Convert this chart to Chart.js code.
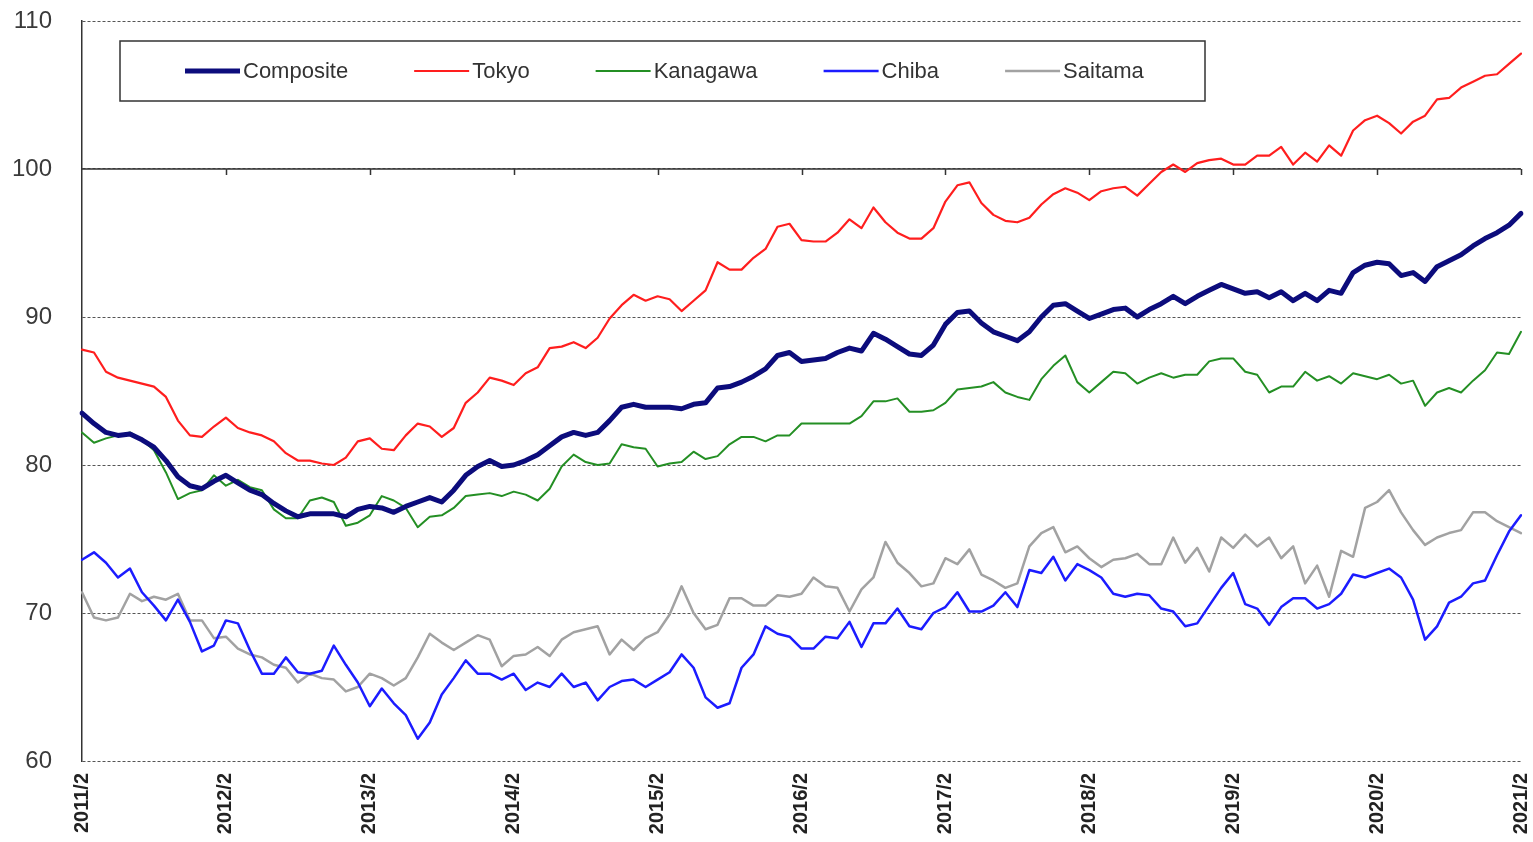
<!DOCTYPE html>
<html>
<head>
<meta charset="utf-8">
<script src="https://cdn.jsdelivr.net/npm/chart.js@4.4.1/dist/chart.umd.min.js"></script>
<style>
  html, body { margin: 0; padding: 0; background: #fff; }
  #wrap { position: relative; width: 1533px; height: 842px; }
</style>
</head>
<body>
<div id="wrap"><canvas id="chart-index"></canvas></div>
<script>
// monthly index, 2011/2 .. 2021/2 (121 months)
const yearTicks = ['2011/2', '2012/2', '2013/2', '2014/2', '2015/2', '2016/2', '2017/2', '2018/2', '2019/2', '2020/2', '2021/2'];

const composite = [
  83.5, 82.8, 82.2, 82.0, 82.1, 81.7, 81.2, 80.3, 79.2, 78.6,
  78.4, 78.9, 79.3, 78.8, 78.3, 78.0, 77.4, 76.9, 76.5, 76.7,
  76.7, 76.7, 76.5, 77.0, 77.2, 77.1, 76.8, 77.2, 77.5, 77.8,
  77.5, 78.3, 79.3, 79.9, 80.3, 79.9, 80.0, 80.3, 80.7, 81.3,
  81.9, 82.2, 82.0, 82.2, 83.0, 83.9, 84.1, 83.9, 83.9, 83.9,
  83.8, 84.1, 84.2, 85.2, 85.3, 85.6, 86.0, 86.5, 87.4, 87.6,
  87.0, 87.1, 87.2, 87.6, 87.9, 87.7, 88.9, 88.5, 88.0, 87.5,
  87.4, 88.1, 89.5, 90.3, 90.4, 89.6, 89.0, 88.7, 88.4, 89.0,
  90.0, 90.8, 90.9, 90.4, 89.9, 90.2, 90.5, 90.6, 90.0, 90.5,
  90.9, 91.4, 90.9, 91.4, 91.8, 92.2, 91.9, 91.6, 91.7, 91.3,
  91.7, 91.1, 91.6, 91.1, 91.8, 91.6, 93.0, 93.5, 93.7, 93.6,
  92.8, 93.0, 92.4, 93.4, 93.8, 94.2, 94.8, 95.3, 95.7, 96.2, 97.0
];
const tokyo = [
  87.8, 87.6, 86.3, 85.9, 85.7, 85.5, 85.3, 84.6, 83.0, 82.0,
  81.9, 82.6, 83.2, 82.5, 82.2, 82.0, 81.6, 80.8, 80.3, 80.3,
  80.1, 80.0, 80.5, 81.6, 81.8, 81.1, 81.0, 82.0, 82.8, 82.6,
  81.9, 82.5, 84.2, 84.9, 85.9, 85.7, 85.4, 86.2, 86.6, 87.9,
  88.0, 88.3, 87.9, 88.6, 89.9, 90.8, 91.5, 91.1, 91.4, 91.2,
  90.4, 91.1, 91.8, 93.7, 93.2, 93.2, 94.0, 94.6, 96.1, 96.3,
  95.2, 95.1, 95.1, 95.7, 96.6, 96.0, 97.4, 96.4, 95.7, 95.3,
  95.3, 96.0, 97.8, 98.9, 99.1, 97.7, 96.9, 96.5, 96.4, 96.7,
  97.6, 98.3, 98.7, 98.4, 97.9, 98.5, 98.7, 98.8, 98.2, 99.0,
  99.8, 100.3, 99.8, 100.4, 100.6, 100.7, 100.3, 100.3, 100.9, 100.9,
  101.5, 100.3, 101.1, 100.5, 101.6, 100.9, 102.6, 103.3, 103.6, 103.1,
  102.4, 103.2, 103.6, 104.7, 104.8, 105.5, 105.9, 106.3, 106.4, 107.1, 107.8
];
const kanagawa = [
  82.2, 81.5, 81.8, 82.0, 82.2, 81.7, 81.0, 79.5, 77.7, 78.1,
  78.3, 79.3, 78.6, 79.0, 78.5, 78.3, 77.0, 76.4, 76.4, 77.6,
  77.8, 77.5, 75.9, 76.1, 76.6, 77.9, 77.6, 77.1, 75.8, 76.5,
  76.6, 77.1, 77.9, 78.0, 78.1, 77.9, 78.2, 78.0, 77.6, 78.4,
  79.9, 80.7, 80.2, 80.0, 80.1, 81.4, 81.2, 81.1, 79.9, 80.1,
  80.2, 80.9, 80.4, 80.6, 81.4, 81.9, 81.9, 81.6, 82.0, 82.0,
  82.8, 82.8, 82.8, 82.8, 82.8, 83.3, 84.3, 84.3, 84.5, 83.6,
  83.6, 83.7, 84.2, 85.1, 85.2, 85.3, 85.6, 84.9, 84.6, 84.4,
  85.8, 86.7, 87.4, 85.6, 84.9, 85.6, 86.3, 86.2, 85.5, 85.9,
  86.2, 85.9, 86.1, 86.1, 87.0, 87.2, 87.2, 86.3, 86.1, 84.9,
  85.3, 85.3, 86.3, 85.7, 86.0, 85.5, 86.2, 86.0, 85.8, 86.1,
  85.5, 85.7, 84.0, 84.9, 85.2, 84.9, 85.7, 86.4, 87.6, 87.5, 89.0
];
const chiba = [
  73.6, 74.1, 73.4, 72.4, 73.0, 71.4, 70.5, 69.5, 70.9, 69.4,
  67.4, 67.8, 69.5, 69.3, 67.5, 65.9, 65.9, 67.0, 66.0, 65.9,
  66.1, 67.8, 66.5, 65.3, 63.7, 64.9, 63.9, 63.1, 61.5, 62.6,
  64.5, 65.6, 66.8, 65.9, 65.9, 65.5, 65.9, 64.8, 65.3, 65.0,
  65.9, 65.0, 65.3, 64.1, 65.0, 65.4, 65.5, 65.0, 65.5, 66.0,
  67.2, 66.3, 64.3, 63.6, 63.9, 66.3, 67.2, 69.1, 68.6, 68.4,
  67.6, 67.6, 68.4, 68.3, 69.4, 67.7, 69.3, 69.3, 70.3, 69.1,
  68.9, 70.0, 70.4, 71.4, 70.1, 70.1, 70.5, 71.4, 70.4, 72.9,
  72.7, 73.8, 72.2, 73.3, 72.9, 72.4, 71.3, 71.1, 71.3, 71.2,
  70.3, 70.1, 69.1, 69.3, 70.5, 71.7, 72.7, 70.6, 70.3, 69.2,
  70.4, 71.0, 71.0, 70.3, 70.6, 71.3, 72.6, 72.4, 72.7, 73.0,
  72.4, 70.9, 68.2, 69.1, 70.7, 71.1, 72.0, 72.2, 73.9, 75.5, 76.6
];
const saitama = [
  71.4, 69.7, 69.5, 69.7, 71.3, 70.8, 71.1, 70.9, 71.3, 69.5,
  69.5, 68.3, 68.4, 67.6, 67.2, 67.0, 66.5, 66.3, 65.3, 65.9,
  65.6, 65.5, 64.7, 65.0, 65.9, 65.6, 65.1, 65.6, 67.0, 68.6,
  68.0, 67.5, 68.0, 68.5, 68.2, 66.4, 67.1, 67.2, 67.7, 67.1,
  68.2, 68.7, 68.9, 69.1, 67.2, 68.2, 67.5, 68.3, 68.7, 69.9,
  71.8, 70.0, 68.9, 69.2, 71.0, 71.0, 70.5, 70.5, 71.2, 71.1,
  71.3, 72.4, 71.8, 71.7, 70.1, 71.6, 72.4, 74.8, 73.4, 72.7,
  71.8, 72.0, 73.7, 73.3, 74.3, 72.6, 72.2, 71.7, 72.0, 74.5,
  75.4, 75.8, 74.1, 74.5, 73.7, 73.1, 73.6, 73.7, 74.0, 73.3,
  73.3, 75.1, 73.4, 74.4, 72.8, 75.1, 74.4, 75.3, 74.5, 75.1,
  73.7, 74.5, 72.0, 73.2, 71.1, 74.2, 73.8, 77.1, 77.5, 78.3,
  76.8, 75.6, 74.6, 75.1, 75.4, 75.6, 76.8, 76.8, 76.2, 75.8, 75.4
];

// category labels: one per month, only February of each year gets printed
const labels = [];
for (let i = 0; i < composite.length; i++) {
  labels.push(i % 12 === 0 ? yearTicks[i / 12] : '');
}

const series = [
  { label: 'Composite', data: composite, color: '#0c0c7c', width: 5 },
  { label: 'Tokyo', data: tokyo, color: '#ff1e1e', width: 2.2 },
  { label: 'Kanagawa', data: kanagawa, color: '#248f24', width: 2 },
  { label: 'Chiba', data: chiba, color: '#1c1cff', width: 2.5 },
  { label: 'Saitama', data: saitama, color: '#a2a2a2', width: 2.5 }
];

// solid axis line at 100 with year tick marks, drawn under the series
const baseLine = {
  id: 'baseLine',
  beforeDatasetsDraw(chart) {
    const { ctx, chartArea: a, scales: { x, y } } = chart;
    const y100 = y.getPixelForValue(100);
    ctx.save();
    ctx.strokeStyle = '#333';
    ctx.lineWidth = 1.5;
    ctx.beginPath();
    ctx.moveTo(a.left, y100);
    ctx.lineTo(a.right, y100);
    for (let i = 12; i < labels.length; i += 12) {
      const px = Math.round(x.getPixelForValue(i)) + 0.5;
      ctx.moveTo(px, y100);
      ctx.lineTo(px, y100 + 6);
    }
    ctx.stroke();
    ctx.restore();
  }
};

// boxed legend sitting inside the plot area
const boxLegend = {
  id: 'boxLegend',
  afterDatasetsDraw(chart) {
    const { ctx } = chart;
    const bx = 120, by = 41, bw = 1085, bh = 60, my = by + bh / 2;
    ctx.save();
    ctx.fillStyle = '#fff';
    ctx.fillRect(bx, by, bw, bh);
    ctx.strokeStyle = '#333';
    ctx.lineWidth = 1.5;
    ctx.strokeRect(bx, by, bw, bh);
    ctx.font = '22px "Liberation Sans", Arial, sans-serif';
    ctx.textBaseline = 'middle';
    ctx.fillStyle = '#333';
    let cx = 185;
    chart.data.datasets.forEach(ds => {
      ctx.strokeStyle = ds.borderColor;
      ctx.lineWidth = ds.borderWidth;
      ctx.beginPath();
      ctx.moveTo(cx, my);
      ctx.lineTo(cx + 55, my);
      ctx.stroke();
      ctx.fillText(ds.label, cx + 58, my + 1);
      cx += 58 + ctx.measureText(ds.label).width + 66;
    });
    ctx.restore();
  }
};

const ctx = document.getElementById('chart-index');
new Chart(ctx, {
  type: 'line',
  data: {
    labels,
    datasets: series.map(s => ({
      label: s.label,
      data: s.data,
      borderColor: s.color,
      backgroundColor: s.color,
      borderWidth: s.width,
      tension: 0, pointRadius: 0, pointHoverRadius: 0, fill: false,
      borderJoinStyle: 'round', borderCapStyle: 'round'
    }))
  },
  options: {
    responsive: true, maintainAspectRatio: false, animation: false,
    layout: { padding: { top: 21, right: 12, left: 0, bottom: 0 } },
    plugins: { legend: { display: false }, tooltip: { enabled: false } },
    scales: {
      x: {
        offset: false,
        grid: { display: false, drawTicks: false },
        border: { display: false },
        ticks: { autoSkip: false, minRotation: 90, maxRotation: 90, padding: 12, color: '#222',
          font: { family: "'Liberation Sans', Arial, sans-serif", size: 20, weight: 'bold' } },
        afterFit: s => { s.height = 81; s.paddingLeft = 0; s.paddingRight = 0; }
      },
      y: {
        min: 60, max: 110,
        grid: { color: '#555', lineWidth: 1, drawTicks: false },
        border: { display: true, color: '#333', width: 1.5, dash: [3, 2] },
        ticks: { stepSize: 10, padding: 30, color: '#3a3a3a',
          font: { family: "'Liberation Sans', Arial, sans-serif", size: 24 } },
        afterFit: s => { s.width = 82; s.paddingTop = 0; s.paddingBottom = 0; }
      }
    }
  },
  plugins: [baseLine, boxLegend]
});
</script>
</body>
</html>
